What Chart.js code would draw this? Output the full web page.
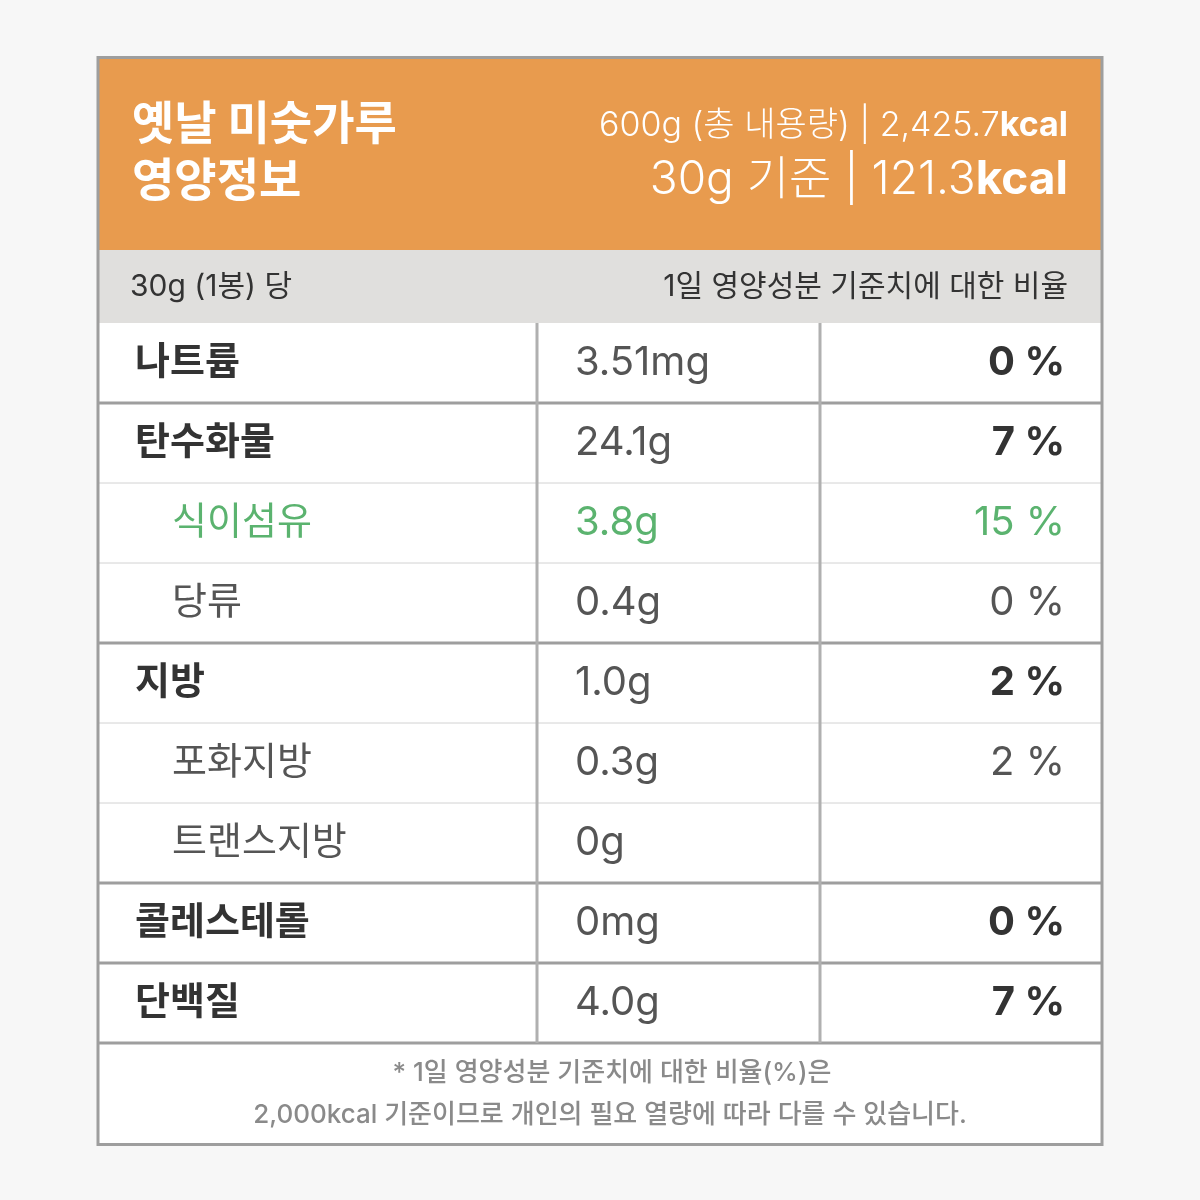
<!DOCTYPE html>
<html><head><meta charset="utf-8">
<script src="https://cdn.jsdelivr.net/npm/chart.js@4"></script>
<style>html,body{margin:0;background:#f7f7f7}#wrap{width:1200px;height:1200px}</style>
</head><body><div id="wrap"><canvas id="c" width="1200" height="1200"></canvas></div>
<script>
// table data
const title = ['옛날 미숫가루', '영양정보'];
const totalLine = ['600g (총 내용량) | 2,425.7', 'kcal'];
const servingLine = ['30g 기준 | 121.3', 'kcal'];
const bandLeft = '30g (1봉) 당';
const bandRight = '1일 영양성분 기준치에 대한 비율';
const nutrients = ['나트륨', '탄수화물', '식이섬유', '당류', '지방', '포화지방', '트랜스지방', '콜레스테롤', '단백질'];
const amounts = ['3.51mg', '24.1g', '3.8g', '0.4g', '1.0g', '0.3g', '0g', '0mg', '4.0g'];
const percents = [0, 7, 15, 0, 2, 2, null, 0, 7];
const isSub = [false, false, true, true, false, true, true, false, false];
const groupEnd = [true, false, false, true, false, false, true, true, true];
const footnote = ['* 1일 영양성분 기준치에 대한 비율(%)은', '2,000kcal 기준이므로 개인의 필요 열량에 따라 다를 수 있습니다.'];

const FONT = 'Inter, "Noto Sans CJK KR", sans-serif';
const GREEN = '#5bb36f';

const tablePlugin = {
  id: 'nutritionTable',
  beforeDraw(chart) {
    const ctx = chart.ctx;
    ctx.save();
    ctx.fillStyle = '#f7f7f7';
    ctx.fillRect(0, 0, 1200, 1200);
    ctx.fillStyle = '#ffffff';
    ctx.fillRect(97, 57, 1006, 1089);
    ctx.restore();
  },
  afterDraw(chart) {
    const ctx = chart.ctx;
    const area = chart.chartArea;
    const y = chart.scales.y;
    const L = area.left, R = area.right;
    const rowH = y.getPixelForValue(1) - y.getPixelForValue(0);
    ctx.save();

    // header
    ctx.fillStyle = '#e89b4e';
    ctx.fillRect(L, 58, R - L, area.top - 73 - 58);
    ctx.fillStyle = '#ffffff';
    ctx.textBaseline = 'middle';
    ctx.font = 'bold 46px ' + FONT;
    ctx.textAlign = 'left';
    ctx.fillText(title[0], 132, 125);
    ctx.fillText(title[1], 132, 182);
    const rightText = (parts, size, yy) => {
      ctx.font = 'bold ' + size + 'px ' + FONT;
      const w2 = ctx.measureText(parts[1]).width;
      ctx.textAlign = 'right';
      ctx.fillText(parts[1], 1068, yy);
      ctx.font = '300 ' + size + 'px ' + FONT;
      ctx.fillText(parts[0], 1068 - w2, yy);
    };
    rightText(totalLine, 34, 126);
    rightText(servingLine, 46, 180);

    // grey band
    ctx.fillStyle = '#e0dfdd';
    ctx.fillRect(L, area.top - 73, R - L, 73);
    ctx.fillStyle = '#333';
    ctx.font = '30px ' + FONT;
    ctx.textAlign = 'left';
    ctx.fillText(bandLeft, 130, area.top - 36);
    ctx.textAlign = 'right';
    ctx.fillText(bandRight, 1068, area.top - 36);

    // rows
    nutrients.forEach((name, i) => {
      const cy = y.getPixelForValue(i);
      const green = name === '식이섬유';
      ctx.textAlign = 'left';
      ctx.fillStyle = green ? GREEN : (isSub[i] ? '#555' : '#333');
      ctx.font = (isSub[i] ? '' : 'bold ') + '38px ' + FONT;
      ctx.fillText(name, isSub[i] ? 172 : 135, cy);
      ctx.fillStyle = green ? GREEN : '#555';
      ctx.font = '40px ' + FONT;
      ctx.fillText(amounts[i], 575, cy);
      if (percents[i] !== null) {
        ctx.textAlign = 'right';
        ctx.fillStyle = green ? GREEN : (isSub[i] ? '#555' : '#333');
        ctx.font = (isSub[i] ? '' : 'bold ') + '40px ' + FONT;
        ctx.fillText(percents[i] + ' %', 1065, cy);
      }
      const by = cy + rowH / 2;
      ctx.beginPath();
      ctx.moveTo(L, by);
      ctx.lineTo(R, by);
      ctx.strokeStyle = groupEnd[i] ? '#9e9e9e' : '#d2d2d2';
      ctx.lineWidth = groupEnd[i] ? 3 : 1;
      ctx.stroke();
    });

    // column lines
    ctx.strokeStyle = '#b0b0b0';
    ctx.lineWidth = 3;
    [537, 820].forEach(x => {
      ctx.beginPath();
      ctx.moveTo(x, area.top);
      ctx.lineTo(x, area.bottom);
      ctx.stroke();
    });

    // footnote
    ctx.fillStyle = '#8a8a8a';
    ctx.font = '500 26px ' + FONT;
    ctx.textAlign = 'center';
    ctx.fillText(footnote[0], 612, area.bottom + 30);
    ctx.fillText(footnote[1], 610, area.bottom + 72);

    // frame
    ctx.strokeStyle = '#9e9e9e';
    ctx.lineWidth = 3;
    ctx.strokeRect(98, 57.5, 1004, 1087);
    ctx.restore();
  }
};

new Chart(document.getElementById('c'), {
  type: 'bar',
  data: {
    labels: nutrients,
    datasets: [{ data: percents, backgroundColor: 'transparent' }]
  },
  options: {
    indexAxis: 'y',
    responsive: false,
    animation: false,
    events: [],
    layout: { padding: { top: 323, bottom: 157, left: 99, right: 99 } },
    plugins: { legend: { display: false }, tooltip: { enabled: false } },
    scales: {
      x: { display: false, min: 0, max: 100 },
      y: { display: false }
    }
  },
  plugins: [tablePlugin]
});
</script>
</body></html>
